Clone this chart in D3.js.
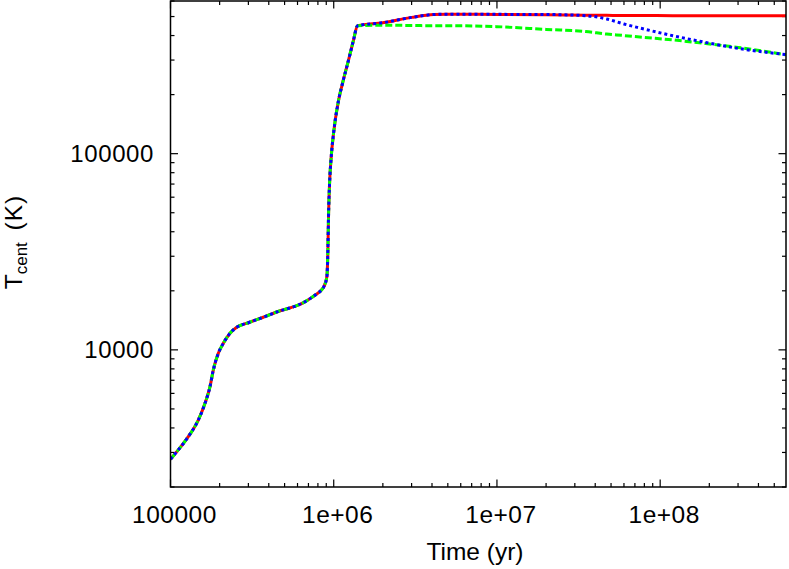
<!DOCTYPE html>
<html><head><meta charset="utf-8">
<script src="https://cdn.jsdelivr.net/npm/d3@7"></script>
<style>
body{margin:0;background:#fff;}
svg{display:block;}
text{font-family:"Liberation Sans",Arial,Helvetica,sans-serif;fill:#000;}
</style></head>
<body><svg id="c" width="789" height="569"></svg>
<script>
// ---- data ----
const time = [1e5,1.116e5,1.285e5,1.48e5,1.627e5,1.746e5,1.829e5,1.963e5,2.107e5,2.315e5,2.545e5,3.0e5,3.7e5,4.7e5,5.7e5,6.4e5,7.2e5,7.7e5,8.5e5,8.7e5,9.08e5,9.21e5,9.29e5,9.43e5,9.65e5,9.97e5,1.07e6,1.13e6,1.23e6,1.32e6,1.4e6,
  2e6,3e6,4.1e6,5e6,1e7,2e7,3.5e7,4.7e7,6e7,7.5e7,1.2e8,1.9e8,3e8,5.9e8];
const tempCommon = [2770,3090,3610,4390,5340,6490,7890,9600,10800,12150,13030,13750,14660,15820,16600,17270,18300,19040,20400,21000,23600,32200,47600,70400,96100,126400,186600,227000,298000,377000,449000];
const tempRedLate   = [465000,495000,512000,514000,512000,510000,508000,507000,506000,506000,505000,505000,505000,505000];
const tempGreenLate = [452000,450000,449000,449000,444000,430000,419000,407000,400000,393000,380000,364000,348000,319000];
const tempBlueLate  = [465000,495000,512000,514000,513000,512000,505000,486000,458000,437000,399000,369000,344000,320000];
const seriesNames = ["red","green","blue"];
const xMajor = [1e5,1e6,1e7,1e8];
const xMajorLabels = ["100000","1e+06","1e+07","1e+08"];
const yMajor = [1e4,1e5];
const yMajorLabels = ["10000","100000"];

// ---- chart ----
const svg = d3.select("#c");
const L=170.5, R=786, T=1, B=487;
const x = d3.scaleLog().domain([1e5,5.9e8]).range([L,R]);
const y = d3.scaleLog().domain([2000,6e5]).range([B,T]);

const series = [
  {name:seriesNames[0], vals:tempCommon.concat(tempRedLate), color:"#ff0000", dash:null},
  {name:seriesNames[1], vals:tempCommon.concat(tempGreenLate), color:"#00ff00", dash:"7,3"},
  {name:seriesNames[2], vals:tempCommon.concat(tempBlueLate), color:"#0000ff", dash:"3,3"}
];

// minor ticks
const xMinor=[]; for(let d=1e5; d<1e9; d*=10){for(let k=2;k<10;k++){const v=d*k; if(v<=5.9e8) xMinor.push(v);}}
const yMinor=[]; for(let d=1e3; d<1e6; d*=10){for(let k=2;k<10;k++){const v=d*k; if(v>=2000&&v<=6e5) yMinor.push(v);}}

const g = svg.append("g");
function tickLines(vals, len, horiz){
  vals.forEach(v=>{
    if(horiz){
      const px=x(v);
      g.append("line").attr("x1",px).attr("x2",px).attr("y1",B).attr("y2",B-len).attr("stroke","#000").attr("stroke-width",1.2);
      g.append("line").attr("x1",px).attr("x2",px).attr("y1",T).attr("y2",T+len).attr("stroke","#000").attr("stroke-width",1.2);
    } else {
      const py=y(v);
      g.append("line").attr("y1",py).attr("y2",py).attr("x1",L).attr("x2",L+len).attr("stroke","#000").attr("stroke-width",1.2);
      g.append("line").attr("y1",py).attr("y2",py).attr("x1",R).attr("x2",R-len).attr("stroke","#000").attr("stroke-width",1.2);
    }
  });
}
tickLines(xMajor,7.5,true); tickLines(xMinor,4,true);
tickLines(yMajor,7.5,false); tickLines(yMinor,4,false);

// labels
xMajor.forEach((v,i)=>{
  g.append("text").attr("x",x(v)+4).attr("y",523).attr("text-anchor","middle")
   .attr("font-size",24.5).attr("letter-spacing","0.5px").text(xMajorLabels[i]);
});
yMajor.forEach((v,i)=>{
  g.append("text").attr("x",154).attr("y",y(v)+8.5).attr("text-anchor","end")
   .attr("font-size",24).attr("letter-spacing","0.6px").text(yMajorLabels[i]);
});
g.append("text").attr("x",475).attr("y",560).attr("text-anchor","middle")
 .attr("font-size",24.5).text("Time (yr)");
const yl = g.append("text").attr("transform","translate(22,242) rotate(-90)").attr("text-anchor","middle").attr("font-size",24.5);
yl.append("tspan").text("T");
yl.append("tspan").attr("font-size",17).attr("dy",5).text("cent");
yl.append("tspan").attr("dy",-5).attr("dx",4).attr("letter-spacing","1px").text(" (K)");

// lines
const clip = svg.append("clipPath").attr("id","cp").append("rect").attr("x",L).attr("y",T).attr("width",R-L).attr("height",B-T);
const line = d3.line().x((d,i)=>x(time[i])).y(d=>y(d)).curve(d3.curveMonotoneX);
series.forEach(s=>{
  svg.append("path").attr("clip-path","url(#cp)").attr("d",line(s.vals)).attr("fill","none")
   .attr("stroke",s.color).attr("stroke-width",3).attr("stroke-dasharray",s.dash);
});

// frame
svg.append("rect").attr("x",L).attr("y",T).attr("width",R-L).attr("height",B-T)
 .attr("fill","none").attr("stroke","#000").attr("stroke-width",1.5);
</script></body></html>
